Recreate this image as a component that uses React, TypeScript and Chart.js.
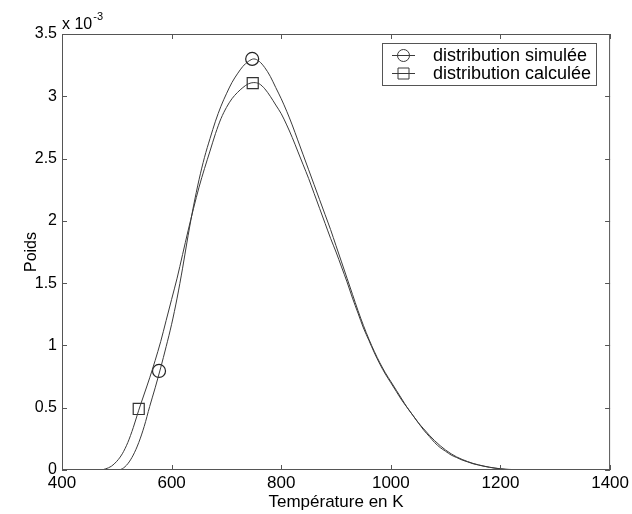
import React, { useEffect, useRef } from 'react';
import { Chart, registerables } from 'chart.js';

Chart.register(...registerables);

// Temperature (K)
const temperatures = [
  460, 470, 480, 490, 500, 510, 520, 530, 540, 550, 560, 570, 580, 590, 600,
  610, 620, 630, 640, 650, 660, 670, 680, 690, 700, 710, 720, 730, 740, 750,
  760, 770, 780, 790, 800, 810, 820, 830, 840, 850, 860, 870, 880, 890, 900,
  910, 920, 930, 940, 950, 960, 970, 980, 990, 1000, 1010, 1020, 1030, 1040, 1050,
  1060, 1070, 1080, 1090, 1100, 1110, 1120, 1130, 1140, 1150, 1160, 1170, 1180, 1190, 1200,
  1210, 1220, 1230, 1240, 1250, 1300, 1400,
];

// Poids (x 10^-3)
const simulee = [
  0, 0, 0, 0, 0, 0.01, 0.05, 0.12, 0.22, 0.35, 0.51, 0.66, 0.82, 0.99, 1.17,
  1.38, 1.62, 1.88, 2.12, 2.33, 2.51, 2.66, 2.80, 2.92, 3.02, 3.11, 3.18, 3.24, 3.28, 3.30,
  3.28, 3.23, 3.16, 3.07, 2.98, 2.88, 2.77, 2.65, 2.53, 2.41, 2.29, 2.17, 2.05, 1.93, 1.80,
  1.67, 1.54, 1.41, 1.28, 1.16, 1.05, 0.95, 0.86, 0.78, 0.71, 0.64, 0.57, 0.50, 0.44, 0.38,
  0.32, 0.27, 0.22, 0.18, 0.15, 0.12, 0.10, 0.08, 0.065, 0.05, 0.04, 0.03, 0.022, 0.015, 0.01,
  0.006, 0.004, 0.002, 0.001, 0, 0, 0,
];

const calculee = [
  0, 0, 0.01, 0.03, 0.07, 0.13, 0.22, 0.34, 0.48, 0.61, 0.74, 0.88, 1.03, 1.20, 1.37,
  1.54, 1.73, 1.92, 2.10, 2.27, 2.42, 2.56, 2.70, 2.82, 2.91, 2.98, 3.03, 3.07, 3.10, 3.11,
  3.10, 3.06, 3.00, 2.93, 2.86, 2.77, 2.67, 2.56, 2.45, 2.34, 2.22, 2.10, 1.98, 1.86, 1.75,
  1.63, 1.51, 1.38, 1.26, 1.14, 1.04, 0.94, 0.85, 0.77, 0.70, 0.63, 0.56, 0.50, 0.44, 0.38,
  0.33, 0.28, 0.235, 0.195, 0.16, 0.13, 0.105, 0.085, 0.068, 0.053, 0.041, 0.031, 0.022, 0.015, 0.009,
  0.005, 0.003, 0.001, 0, 0, 0, 0,
];

// Marker positions (MATLAB sparse markers)
const simMarkerT = [577, 747];
const simMarkerV = [0.795, 3.3];
const calcMarkerT = [540, 748];
const calcMarkerV = [0.49, 3.105];

const xTicks = [400, 600, 800, 1000, 1200, 1400];
const yTicks = [0, 0.5, 1, 1.5, 2, 2.5, 3, 3.5];

const legendLabels = ['distribution simulée', 'distribution calculée'];
const xTitle = 'Température en K';
const yTitle = 'Poids';
const exponentBase = 'x 10';
const exponentPower = '-3';

const FONT = 'Arial, "Liberation Sans", Helvetica, sans-serif';
const LINE_COLOR = '#3a3a3a';
const FRAME_COLOR = '#555555';

const decorPlugin = {
  id: 'matlabDecor',
  afterDraw(chart: any) {
    const { ctx, chartArea } = chart;
    const xs = chart.scales.x;
    const ys = chart.scales.y;
    const { left, right, top, bottom } = chartArea;
    ctx.save();
    // frame
    ctx.strokeStyle = FRAME_COLOR;
    ctx.lineWidth = 1;
    ctx.strokeRect(left + 0.5, top + 0.5, right - left - 1, bottom - top - 1);
    // inward ticks
    ctx.beginPath();
    xTicks.forEach((t) => {
      const px = Math.round(xs.getPixelForValue(t)) + 0.5;
      ctx.moveTo(px, bottom);
      ctx.lineTo(px, bottom - 5);
      ctx.moveTo(px, top);
      ctx.lineTo(px, top + 5);
    });
    yTicks.forEach((t) => {
      const py = Math.round(ys.getPixelForValue(t)) + 0.5;
      ctx.moveTo(left, py);
      ctx.lineTo(left + 5, py);
      ctx.moveTo(right, py);
      ctx.lineTo(right - 5, py);
    });
    ctx.stroke();

    // exponent
    ctx.fillStyle = '#000';
    ctx.textBaseline = 'alphabetic';
    ctx.textAlign = 'left';
    ctx.font = `16px ${FONT}`;
    ctx.fillText(exponentBase, left, top - 5);
    const w = ctx.measureText(exponentBase).width;
    ctx.font = `11px ${FONT}`;
    ctx.fillText(exponentPower, left + w + 1, top - 14);

    // axis titles
    ctx.font = `17px ${FONT}`;
    ctx.textAlign = 'center';
    ctx.fillText(xTitle, (left + right) / 2, 507);
    ctx.save();
    ctx.translate(36, (top + bottom) / 2);
    ctx.rotate(-Math.PI / 2);
    ctx.font = `16px ${FONT}`;
    ctx.fillText(yTitle, 0, 0);
    ctx.restore();

    // legend
    const bx = 382, by = 43, bw = 214, bh = 42;
    ctx.fillStyle = '#fff';
    ctx.fillRect(bx, by, bw, bh);
    ctx.strokeStyle = FRAME_COLOR;
    ctx.strokeRect(bx + 0.5, by + 0.5, bw, bh);
    const rows = [55, 73];
    rows.forEach((ry, i) => {
      ctx.strokeStyle = LINE_COLOR;
      ctx.lineWidth = 1;
      ctx.beginPath();
      ctx.moveTo(392, ry + 0.5);
      ctx.lineTo(415, ry + 0.5);
      ctx.stroke();
      ctx.beginPath();
      if (i === 0) {
        ctx.arc(403.5, ry + 0.5, 6, 0, Math.PI * 2);
      } else {
        ctx.rect(398, ry - 5, 11, 11);
      }
      ctx.stroke();
      ctx.fillStyle = '#000';
      ctx.font = `18px ${FONT}`;
      ctx.textAlign = 'left';
      ctx.textBaseline = 'middle';
      ctx.fillText(legendLabels[i], 433, ry + 1);
    });
    ctx.restore();
  },
};

export default function App() {
  const ref = useRef<HTMLCanvasElement>(null);

  useEffect(() => {
    document.body.style.margin = '0';
    const canvas = ref.current;
    if (!canvas) return;
    const chart = new Chart(canvas, {
      type: 'line',
      data: {
        datasets: [
          {
            label: legendLabels[0],
            data: temperatures.map((t, i) => ({ x: t, y: simulee[i] })),
            borderColor: LINE_COLOR,
            borderWidth: 1,
            pointRadius: 0,
            cubicInterpolationMode: 'monotone',
            fill: false,
          },
          {
            label: legendLabels[1],
            data: temperatures.map((t, i) => ({ x: t, y: calculee[i] })),
            borderColor: LINE_COLOR,
            borderWidth: 1,
            pointRadius: 0,
            cubicInterpolationMode: 'monotone',
            fill: false,
          },
          {
            label: 'marks sim',
            type: 'scatter',
            data: simMarkerT.map((t, i) => ({ x: t, y: simMarkerV[i] })),
            showLine: false,
            pointStyle: 'circle',
            pointRadius: 6.5,
            borderColor: '#222',
            borderWidth: 1.2,
            backgroundColor: 'rgba(0,0,0,0)',
          },
          {
            label: 'marks calc',
            type: 'scatter',
            data: calcMarkerT.map((t, i) => ({ x: t, y: calcMarkerV[i] })),
            showLine: false,
            pointStyle: 'rect',
            pointRadius: 7.8,
            borderColor: '#333',
            borderWidth: 1.2,
            backgroundColor: 'rgba(0,0,0,0)',
          },
        ],
      } as any,
      options: {
        animation: false,
        responsive: false,
        events: [],
        layout: { padding: { top: 34, right: 20, left: 0, bottom: 0 } },
        plugins: {
          legend: { display: false },
          tooltip: { enabled: false },
        },
        scales: {
          x: {
            type: 'linear',
            min: 400,
            max: 1400,
            afterBuildTicks: (s: any) => {
              s.ticks = xTicks.map((v) => ({ value: v }));
            },
            afterFit: (s: any) => {
              s.height = 44;
            },
            grid: { display: false, drawTicks: false },
            border: { display: false },
            ticks: {
              padding: 3,
              color: '#000',
              font: { family: FONT, size: 17 },
              maxRotation: 0,
              callback: (v: any) => String(v),
            },
          },
          y: {
            type: 'linear',
            min: 0,
            max: 3.5,
            afterBuildTicks: (s: any) => {
              s.ticks = yTicks.map((v) => ({ value: v }));
            },
            afterFit: (s: any) => {
              s.width = 62;
            },
            grid: { display: false, drawTicks: false },
            border: { display: false },
            ticks: {
              padding: 5,
              color: '#000',
              font: { family: FONT, size: 16 },
              callback: (v: any) => String(v),
            },
          },
        },
      },
      plugins: [decorPlugin],
    });
    return () => chart.destroy();
  }, []);

  return (
    <div style={{ position: 'absolute', left: 0, top: 0, width: 632, height: 514, background: '#fff' }}>
      <canvas ref={ref} width={632} height={514} />
    </div>
  );
}
